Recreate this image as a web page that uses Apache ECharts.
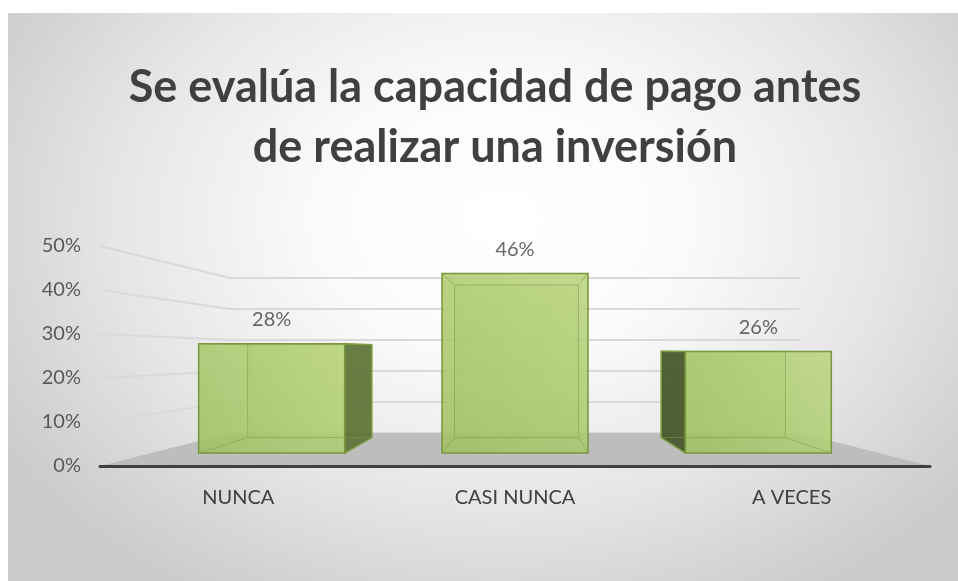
<!DOCTYPE html>
<html><head><meta charset="utf-8">
<script src="https://cdn.jsdelivr.net/npm/echarts@6/dist/echarts.min.js"></script>
<style>
html,body{margin:0;padding:0;background:#fff;overflow:hidden;width:958px;height:581px}
#c{position:absolute;left:8px;top:13px;width:950px;height:568px;
background:radial-gradient(ellipse 62% 78% at 52% 36%, #ffffff 0%, #fbfbfb 30%, #e6e6e6 65%, #d2d2d2 90%, #cbcbcb 100%);}
</style>
</head><body><div id="c"></div>
<script>
const categories = ['NUNCA', 'CASI NUNCA', 'A VECES'];
const values = [28, 46, 26];
const yTicks = [0, 10, 20, 30, 40, 50];
const titleText = 'Se evalúa la capacidad de pago antes\nde realizar una inversión';

const FONT = 'Lato';
const W = 950, H = 568;
const G0 = {left: 92, right: 28, top: 233, bottom: 115};   // front plane (axis labels)
const G1 = {left: 222, right: 158, top: 265, bottom: 148}; // back wall
const G2 = {left: 142, right: 78, top: 245, bottom: 128};  // bar plane
const VP = [517, 337], DEPTH = 0.85;

const chart = echarts.init(document.getElementById('c'));

function back(p) { return [VP[0] + (p[0] - VP[0]) * DEPTH, VP[1] + (p[1] - VP[1]) * DEPTH]; }

function renderBox(params, api) {
  const i = api.value(0), v = api.value(1);
  const top = api.coord([i, v]), base = api.coord([i, 0]);
  const w = api.size([1, 0])[0] * 0.6;
  const L = base[0] - w / 2, R = base[0] + w / 2, T = top[1], B = base[1];
  const fTL = [L, T], fTR = [R, T], fBL = [L, B], fBR = [R, B];
  const bTL = back(fTL), bTR = back(fTR), bBL = back(fBL), bBR = back(fBR);
  const ch = [];
  ch.push({type: 'polygon', shape: {points: [bTL, bTR, bBR, bBL]},
    style: {fill: 'rgba(160,190,100,0.35)', stroke: 'rgba(118,146,60,0.6)', lineWidth: 1}});
  if (bTR[0] > fTR[0] + 1) ch.push({type: 'polygon', shape: {points: [fTR, bTR, bBR, fBR]},
    style: {fill: 'rgba(88,110,50,0.88)', stroke: '#76943a', lineWidth: 1.5}});
  if (bTL[0] < fTL[0] - 1) ch.push({type: 'polygon', shape: {points: [bTL, fTL, fBL, bBL]},
    style: {fill: 'rgba(66,82,40,0.9)', stroke: '#76943a', lineWidth: 1.5}});
  ch.push({type: 'rect', shape: {x: L, y: T, width: w, height: B - T},
    style: {fill: {type: 'linear', x: 0, y: 1, x2: 1, y2: 0, colorStops: [
      {offset: 0, color: 'rgba(160,192,98,0.88)'}, {offset: 1, color: 'rgba(186,214,128,0.88)'}]},
      stroke: '#78963c', lineWidth: 1.5}});
  [[fTL, bTL], [fTR, bTR], [fBL, bBL], [fBR, bBR]].forEach(function (s) {
    ch.push({type: 'line', shape: {x1: s[0][0], y1: s[0][1], x2: s[1][0], y2: s[1][1]},
      style: {stroke: 'rgba(130,160,70,0.6)', lineWidth: 1}});
  });
  ch.push({type: 'polygon', shape: {points: [bTL, bTR, bBR, bBL]},
    style: {fill: null, stroke: 'rgba(130,160,70,0.55)', lineWidth: 1}});
  return {type: 'group', children: ch};
}

const axisFont = {fontFamily: FONT, fontSize: 20};

chart.setOption({
  animation: false,
  title: {
    text: titleText, left: 482, top: 39, textAlign: 'center',
    textStyle: {fontFamily: FONT, fontSize: 45, fontWeight: 'bold', color: '#404040', lineHeight: 60}
  },
  grid: [
    Object.assign({}, G0),
    Object.assign({}, G1),
    Object.assign({}, G2)
  ],
  xAxis: [
    {type: 'category', gridIndex: 0, data: categories, z: 5,
      axisLine: {lineStyle: {color: '#404040', width: 3}}, axisTick: {show: false},
      axisLabel: Object.assign({color: '#404040', margin: 22}, axisFont)},
    {type: 'category', gridIndex: 1, data: categories, show: false},
    {type: 'category', gridIndex: 2, data: categories, show: false}
  ],
  yAxis: [
    {type: 'value', gridIndex: 0, min: yTicks[0], max: yTicks[yTicks.length - 1], interval: 10,
      axisLine: {show: false}, axisTick: {show: false}, splitLine: {show: false},
      axisLabel: Object.assign({color: '#595959', margin: 19, formatter: '{value}%'}, axisFont)},
    {type: 'value', gridIndex: 1, min: yTicks[0], max: yTicks[yTicks.length - 1], interval: 10,
      axisLine: {show: false}, axisTick: {show: false}, axisLabel: {show: false},
      splitLine: {show: true, lineStyle: {color: '#d9d9d9', width: 2}}},
    {type: 'value', gridIndex: 2, min: 0, max: 50, show: false, splitLine: {show: false}}
  ],
  series: [
    {type: 'custom', xAxisIndex: 2, yAxisIndex: 2, z: 3,
      data: values.map(function (v, i) { return [i, v]; }), renderItem: renderBox},
    {type: 'scatter', xAxisIndex: 2, yAxisIndex: 2, z: 4, symbolSize: 1,
      itemStyle: {color: 'rgba(0,0,0,0)'}, silent: true,
      data: values.map(function (v, i) { return [i, v]; }),
      label: {show: true, position: 'top', distance: 14, color: '#404040', fontFamily: FONT, fontSize: 20,
        formatter: function (p) { return p.value[1] + '%'; }}}
  ]
});

// perspective floor and side-wall gridlines, positioned through the axes' scales
const yF = function (v) { return chart.convertToPixel({yAxisIndex: 0}, v); };
const yB = function (v) { return chart.convertToPixel({yAxisIndex: 1}, v); };
const els = [];
els.push({type: 'polygon', z: 1, shape: {points: [
  [G0.left, yF(0)], [G1.left, yB(0)], [W - G1.right, yB(0)], [W - G0.right, yF(0)]]},
  style: {fill: '#bdbdbd'}});
yTicks.slice(1).forEach(function (v) {
  els.push({type: 'line', z: 0, shape: {x1: G0.left, y1: yF(v), x2: G1.left, y2: yB(v)},
    style: {stroke: '#d9d9d9', lineWidth: 2}});
});
chart.setOption({graphic: {elements: els}});
</script>
</body></html>
